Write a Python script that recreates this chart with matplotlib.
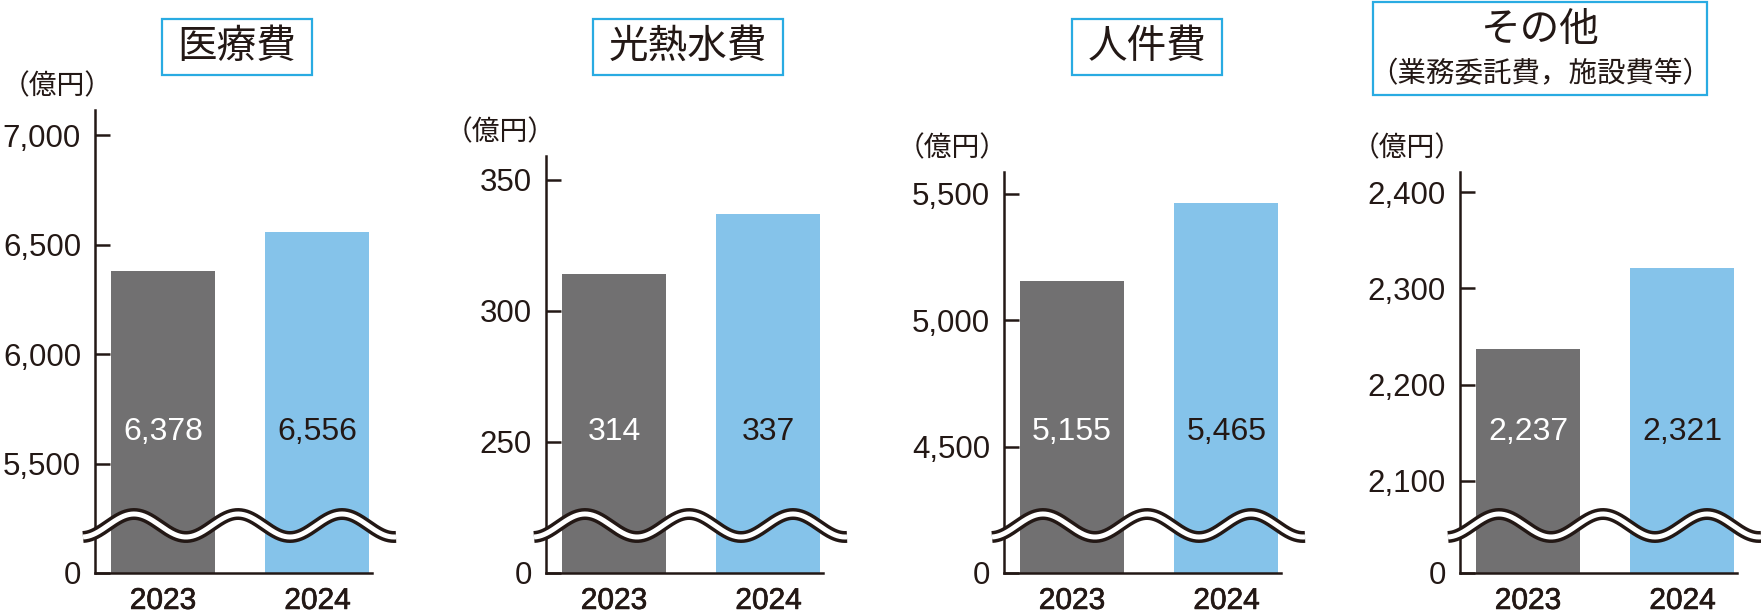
import numpy as np
import matplotlib
matplotlib.use('Agg')
import matplotlib.pyplot as plt
import matplotlib.patheffects as pe
from matplotlib.lines import Line2D
from matplotlib.patches import Rectangle

plt.rcParams['font.family'] = ['Liberation Sans', 'Noto Sans CJK JP']

# data
years = ['2023', '2024']
medical = [6378, 6556]
utilities = [314, 337]
personnel = [5155, 5465]
other = [2237, 2321]

medical_ticks = [5500, 6000, 6500, 7000]
utilities_ticks = [250, 300, 350]
personnel_ticks = [4500, 5000, 5500]
other_ticks = [2100, 2200, 2300, 2400]

titles = ['医療費', '光熱水費', '人件費', 'その他']
sub_title = '（業務委託費，施設費等）'
unit = '（億円）'

# colours
INK = '#231815'
GRAY = '#717071'
BLUE = '#85C3EA'
CYAN = '#29ABE2'

W, H = 1761, 614
fig = plt.figure(figsize=(W / 100, H / 100), dpi=100)


def fx(px):
    return px / W


def fy(py):
    return 1 - py / H


BASE = 573      # pixel row of x-axis
AX_W = 277      # axis width in pixels

# panel layout: axis x, axis top, ylim bottom, ylim top
panels = [
    (95, 110, 5000, 7115, medical, medical_ticks),
    (546, 156, 200, 359, utilities, utilities_ticks),
    (1004, 172, 4000, 5586, personnel, personnel_ticks),
    (1460, 172, 2004, 2421, other, other_ticks),
]
unit_x = [57, 500, 952, 1407]

for k, (axx, top, y0, y1, vals, ticks) in enumerate(panels):
    ax = fig.add_axes([fx(axx), fy(BASE), AX_W / W, (BASE - top) / H])
    xs = np.arange(len(years))
    ax.bar(xs, [v - y0 for v in vals], bottom=y0, width=0.673,
           color=[GRAY, BLUE], linewidth=0)
    ax.set_xlim(-0.44, 1.353)
    ax.set_ylim(y0, y1)
    ax.set_yticks([y0] + ticks)
    ax.set_yticklabels(['0'] + [f'{t:,}' for t in ticks])
    ax.set_xticks(xs)
    ax.set_xticklabels(years)
    for lab in ax.get_xticklabels():
        lab.set_path_effects([pe.withStroke(linewidth=0.5, foreground=INK)])
    for s in ['top', 'right']:
        ax.spines[s].set_visible(False)
    for s in ['left', 'bottom']:
        ax.spines[s].set_linewidth(1.8)
        ax.spines[s].set_color(INK)
    ax.tick_params(axis='y', direction='in', length=10.8, width=1.8,
                   color=INK, labelcolor=INK, labelsize=22.5, pad=10)
    ax.tick_params(axis='x', length=0, labelcolor=INK, labelsize=21.5, pad=10)

    # value labels inside bars
    frac = (BASE - 432) / (BASE - top)
    for i, v in enumerate(vals):
        ax.text(i, frac, f'{v:,}', transform=ax.get_xaxis_transform(),
                ha='center', va='center', fontsize=23,
                color='white' if i == 0 else INK)

    # unit label
    fig.text(fx(unit_x[k]), fy(top - 24), unit, ha='center', va='center',
             fontsize=20, color=INK, family=['Noto Sans CJK JP'])

    # wavy break mark
    wx = np.linspace(axx - 12, axx + 301, 500)
    wy = 525.5 - 11.5 * np.cos(2 * np.pi * (wx - (axx + 39)) / 104)
    fig.add_artist(Line2D(fx(wx), fy(wy), transform=fig.transFigure,
                          color=INK, lw=8.6, solid_capstyle='butt', zorder=5))
    fig.add_artist(Line2D(fx(wx), fy(wy), transform=fig.transFigure,
                          color='white', lw=3.6, solid_capstyle='butt', zorder=6))

# title boxes
boxes = [(162, 312, 19, 75), (593, 783, 19, 75), (1072, 1222, 19, 75),
         (1373, 1707, 2, 95)]
for k, (l, r, t, b) in enumerate(boxes):
    fig.add_artist(Rectangle((fx(l), fy(b)), (r - l) / W, (b - t) / H,
                             transform=fig.transFigure, fill=False,
                             edgecolor=CYAN, lw=1.6))
    if k < 3:
        fig.text(fx((l + r) / 2), fy((t + b) / 2), titles[k], ha='center',
                 va='center', fontsize=28.5, color=INK,
                 family=['Noto Sans CJK JP'])
    else:
        fig.text(fx((l + r) / 2), fy(30), titles[k], ha='center',
                 va='center', fontsize=28.5, color=INK,
                 family=['Noto Sans CJK JP'])
        fig.text(fx((l + r) / 2), fy(74), sub_title, ha='center',
                 va='center', fontsize=20.5, color=INK,
                 family=['Noto Sans CJK JP'])

fig.savefig('out.png', dpi=100)
